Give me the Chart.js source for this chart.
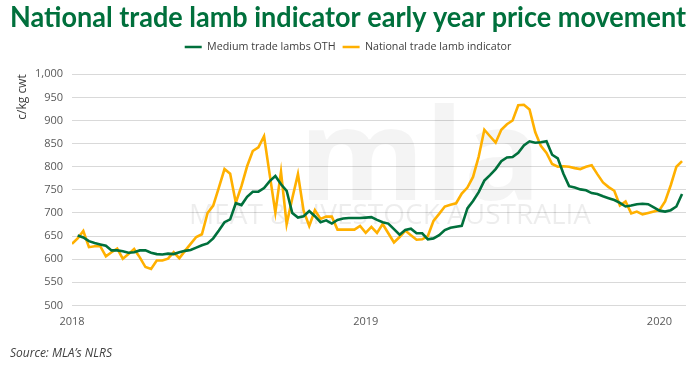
<!DOCTYPE html>
<html>
<head>
<meta charset="utf-8">
<script src="https://cdn.jsdelivr.net/npm/chart.js@4.4.1/dist/chart.umd.min.js"></script>
<style>
html,body{margin:0;padding:0;background:#fff;}
#wrap{width:700px;height:367px;position:relative;}
</style>
</head>
<body>
<div id="wrap"><canvas id="c" width="700" height="367"></canvas></div>
<script>
// Weekly observations, Jan 2018 – early Feb 2020 (c/kg cwt)
const yearLabels = ['2018', '2019', '2020'];
const yearStartWeek = [0, 52, 104];

const mediumTradeOTH = [
  null, 651, 647, 639, 635, 632, 629, 619, 619, 617,
  614, 615, 619, 619, 614, 611, 610, 612, 611, 615,
  618, 620, 625, 630, 634, 645, 662, 680, 686, 721,
  717, 735, 746, 746, 754, 769, 780, 762, 748, 700,
  690, 693, 704, 693, 680, 684, 677, 685, 688, 689,
  689, 689, 690, 691, 685, 680, 677, 665, 653, 663,
  666, 656, 656, 643, 645, 652, 663, 668, 670, 672,
  710, 726, 745, 770, 782, 795, 812, 820, 821, 830,
  846, 855, 852, 853, 855, 826, 818, 785, 758, 755,
  751, 749, 743, 741, 736, 732, 728, 722, 714, 716,
  719, 720, 719, 712, 705, 703, 706, 714, 741
];

const nationalTLI = [
  633, 645, 661, 626, 628, 628, 606, 615, 623, 601,
  611, 622, 604, 583, 579, 597, 597, 601, 615, 602,
  618, 633, 648, 654, 700, 716, 755, 795, 785, 722,
  758, 801, 834, 842, 866, 783, 701, 789, 676, 732,
  784, 705, 672, 706, 687, 692, 692, 664, 664, 664,
  664, 672, 657, 670, 657, 676, 656, 636, 648, 662,
  652, 642, 643, 650, 683, 698, 714, 718, 721, 742,
  755, 778, 822, 880, 866, 852, 880, 892, 900, 933,
  934, 924, 875, 845, 830, 806, 800, 801, 800, 797,
  795, 800, 803, 784, 766, 756, 748, 716, 725, 699,
  703, 697, 700, 703, 706, 725, 760, 800, 812
];

const seriesNames = ['Medium trade lambs OTH', 'National trade lamb indicator'];
const seriesColors = ['#00703c', '#ffb000'];

const toPoints = arr => arr.map((v, i) => ({ x: i, y: v }));

const watermark = {
  id: 'watermark',
  beforeDatasetsDraw(chart) {
    const { ctx } = chart;
    ctx.save();
    ctx.fillStyle = 'rgba(0,0,0,0.045)';
    ctx.font = 'bold 128px "Open Sans", sans-serif';
    ctx.textBaseline = 'alphabetic';
    ctx.textAlign = 'center';
    ctx.fillText('mla', 420, 200);
    ctx.fillStyle = 'rgba(0,0,0,0.07)';
    ctx.font = '28px "Open Sans", sans-serif';
    ctx.fillText('MEAT & LIVESTOCK AUSTRALIA', 390, 224);
    ctx.restore();
  }
};

const legendSpacing = {
  id: 'legendSpacing',
  beforeInit(chart) {
    const origFit = chart.legend.fit;
    chart.legend.fit = function () {
      origFit.call(this);
      this.height += 12;
    };
  }
};

new Chart(document.getElementById('c'), {
  type: 'line',
  data: {
    datasets: [
      { label: seriesNames[0], data: toPoints(mediumTradeOTH), borderColor: seriesColors[0], backgroundColor: seriesColors[0], borderWidth: 2.6, pointRadius: 0, tension: 0, spanGaps: false },
      { label: seriesNames[1], data: toPoints(nationalTLI), borderColor: seriesColors[1], backgroundColor: seriesColors[1], borderWidth: 2.6, pointRadius: 0, tension: 0 }
    ]
  },
  options: {
    responsive: false,
    animation: false,
    devicePixelRatio: 1,
    layout: { padding: { left: 10, right: 14, top: 0, bottom: 6 } },
    plugins: {
      title: {
        display: true,
        text: 'National trade lamb indicator early year price movement',
        color: '#00703c',
        font: { family: 'Lato', size: 28, weight: 'bold' },
        padding: { top: 1, bottom: 0 }
      },
      subtitle: {
        display: true,
        position: 'bottom',
        align: 'start',
        text: 'Source: MLA\u2019s NLRS',
        color: '#404040',
        font: { family: '"Open Sans"', size: 12, style: 'italic' },
        padding: { top: 8, bottom: 0 }
      },
      legend: {
        display: true,
        position: 'top',
        labels: {
          usePointStyle: true,
          pointStyle: 'line',
          pointStyleWidth: 17,
          boxHeight: 8,
          color: '#404040',
          font: { family: '"Open Sans"', size: 10.7 },
          padding: 7
        }
      },
      tooltip: { enabled: false }
    },
    scales: {
      x: {
        type: 'linear',
        min: 0,
        max: 108.7,
        grid: { display: false, drawTicks: false },
        border: { display: false },
        afterBuildTicks(scale) { scale.ticks = yearStartWeek.map(v => ({ value: v })); },
        ticks: {
          color: '#595959',
          font: { family: '"Open Sans"', size: 11 },
          padding: 10,
          maxRotation: 0,
          callback(value) { const k = yearStartWeek.indexOf(value); return k >= 0 ? yearLabels[k] : ''; }
        }
      },
      y: {
        min: 500,
        max: 1000,
        grid: { color: '#d9d9d9', lineWidth: 1, drawTicks: false },
        border: { display: false },
        afterFit(scale) { scale.width = 62; },
        title: {
          display: true,
          text: 'c/kg cwt',
          align: 'end',
          color: '#404040',
          font: { family: '"Open Sans"', size: 12 },
          padding: { top: 5, bottom: 0 }
        },
        ticks: {
          stepSize: 50,
          color: '#595959',
          font: { family: '"Open Sans"', size: 11 },
          padding: 9,
          callback(v) { return v.toLocaleString('en-US'); }
        }
      }
    }
  },
  plugins: [watermark, legendSpacing]
});
</script>
</body>
</html>
